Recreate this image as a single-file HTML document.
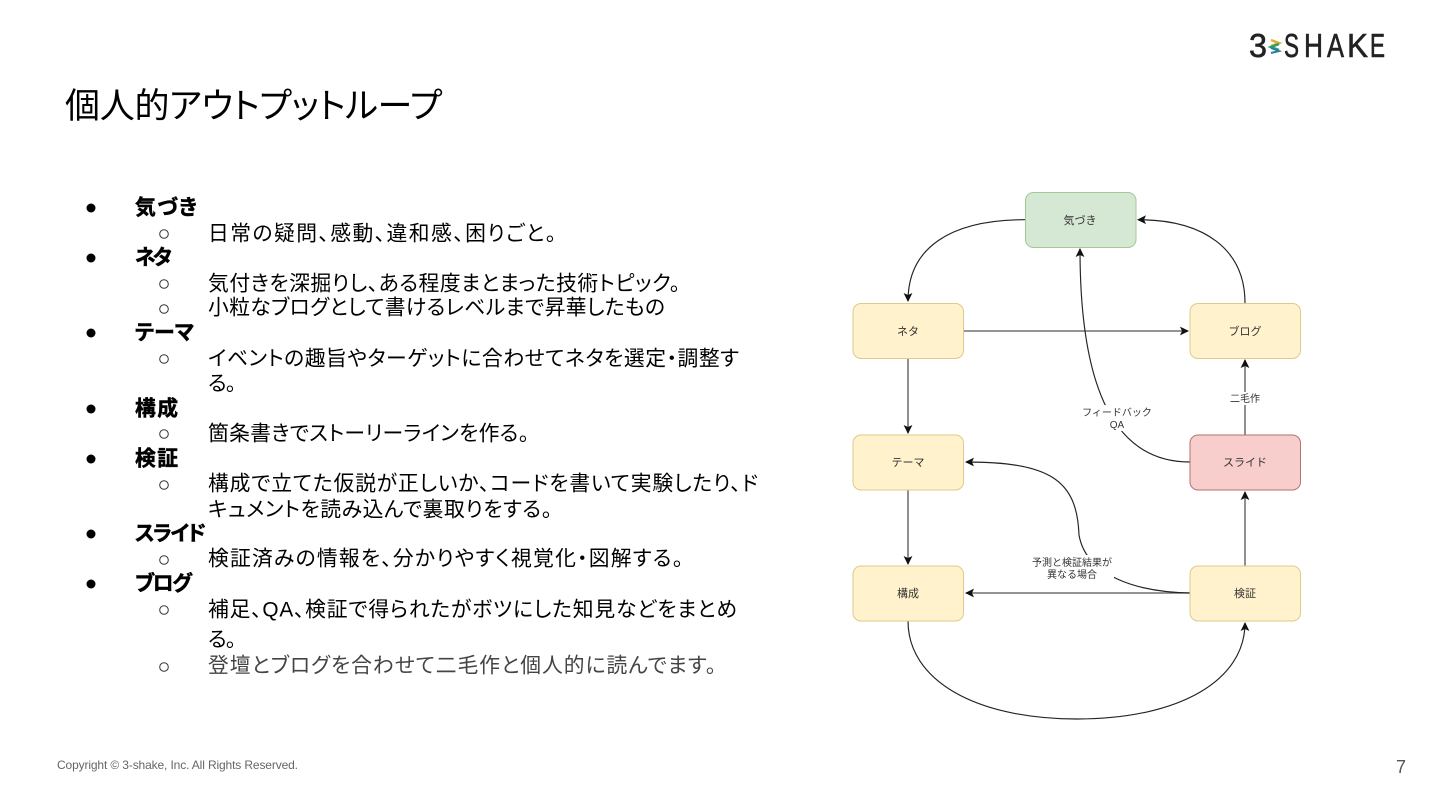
<!DOCTYPE html>
<html lang="ja"><head><meta charset="utf-8"><title>個人的アウトプットループ</title>
<style>
html,body{margin:0;padding:0;background:#fff;width:1440px;height:810px;overflow:hidden}
svg{display:block}
text{font-family:"Liberation Sans","Noto Sans CJK JP",sans-serif;}
.t{font-size:20.8px;fill:#000;font-feature-settings:"palt"}
.b{font-size:20.8px;fill:#000;font-weight:700;stroke:#000;stroke-width:.5;font-feature-settings:"palt"}
.n{font-size:11px;fill:#333;text-anchor:middle}
.l{font-size:10px;fill:#333;text-anchor:middle}
.e{fill:none;stroke:#222;stroke-width:1.15}
.s{fill:none;stroke:#555;stroke-width:1.3}
.g{font-size:33px;fill:#222;stroke:#222;stroke-width:.6}
</style></head><body>
<svg width="1440" height="810" viewBox="0 0 1440 810" xmlns="http://www.w3.org/2000/svg">
<defs><marker id="a" markerWidth="12" markerHeight="12" refX="8" refY="5" orient="auto" markerUnits="userSpaceOnUse"><path d="M0,0.6L9,5L0,9.4L2,5Z" fill="#111"/></marker></defs>

<text class="g" x="1249" y="57" textLength="18" lengthAdjust="spacingAndGlyphs">3</text>
<path d="M1271,40l8,3l-8,3" fill="none" stroke="#e0b030" stroke-width="2.5"/>
<path d="M1279,44l-8,3l8,3" fill="none" stroke="#2f9e6e" stroke-width="2.5"/>
<path d="M1271,48l8,3l-8,2" fill="none" stroke="#2a7fa0" stroke-width="2"/>
<text class="g" x="1284" y="57" textLength="15" lengthAdjust="spacingAndGlyphs">S</text>
<text class="g" x="1304" y="57" textLength="19" lengthAdjust="spacingAndGlyphs">H</text>
<text class="g" x="1327" y="57" textLength="17" lengthAdjust="spacingAndGlyphs">A</text>
<text class="g" x="1347" y="57" textLength="21" lengthAdjust="spacingAndGlyphs">K</text>
<text class="g" x="1370" y="57" textLength="15" lengthAdjust="spacingAndGlyphs">E</text>

<text x="65" y="118" style="font-size:35px;font-feature-settings:'palt'" fill="#000" textLength="377">個人的アウトプットループ</text>

<g fill="#000">
<circle cx="91" cy="208" r="4.5"/><circle cx="91" cy="258" r="4.5"/><circle cx="91" cy="333" r="4.5"/><circle cx="91" cy="409" r="4.5"/><circle cx="91" cy="459" r="4.5"/><circle cx="91" cy="534" r="4.5"/><circle cx="91" cy="584" r="4.5"/>
</g>
<g fill="none" stroke="#333" stroke-width="1">
<circle cx="164" cy="234" r="4.3"/><circle cx="164" cy="284" r="4.3"/><circle cx="164" cy="309" r="4.3"/><circle cx="164" cy="359" r="4.3"/><circle cx="164" cy="434" r="4.3"/><circle cx="164" cy="485" r="4.3"/><circle cx="164" cy="560" r="4.3"/><circle cx="164" cy="610" r="4.3"/><circle cx="164" cy="667" r="4.3"/>
</g>

<g transform="translate(0,0.7)">
<text class="b" x="135" y="214" textLength="62">気づき</text>
<text class="t" x="208" y="240" textLength="348">日常の疑問、感動、違和感、困りごと。</text>
<text class="b" x="135" y="264" textLength="37">ネタ</text>
<text class="t" x="208" y="290" textLength="472">気付きを深掘りし、ある程度まとまった技術トピック。</text>
<text class="t" x="208" y="314" textLength="457">小粒なブログとして書けるレベルまで昇華したもの</text>
<text class="b" x="135" y="339" textLength="59">テーマ</text>
<text class="t" x="208" y="365" textLength="531">イベントの趣旨やターゲットに合わせてネタを選定・調整す</text>
<text class="t" x="208" y="390" textLength="28">る。</text>
<text class="b" x="135" y="415" textLength="43">構成</text>
<text class="t" x="208" y="440" textLength="321">箇条書きでストーリーラインを作る。</text>
<text class="b" x="135" y="465" textLength="43">検証</text>
<text class="t" x="208" y="490" textLength="550">構成で立てた仮説が正しいか、コードを書いて実験したり、ド</text>
<text class="t" x="208" y="516" textLength="344">キュメントを読み込んで裏取りをする。</text>
<text class="b" x="135" y="540" textLength="71">スライド</text>
<text class="t" x="208" y="565" textLength="475">検証済みの情報を、分かりやすく視覚化・図解する。</text>
<text class="b" x="135" y="590" textLength="57">ブログ</text>
<text class="t" x="208" y="616" textLength="529">補足、QA、検証で得られたがボツにした知見などをまとめ</text>
<text class="t" x="208" y="646" textLength="28">る。</text>
<text class="t" x="208" y="672" textLength="508" style="fill:#444">登壇とブログを合わせて二毛作と個人的に読んでます。</text>
</g>

<g>
<path class="s" d="M964,331H1188" marker-end="url(#a)"/>
<path class="s" d="M908,358.5V433" marker-end="url(#a)"/>
<path class="s" d="M908,490V564" marker-end="url(#a)"/>
<path class="s" d="M1245,435V360" marker-end="url(#a)"/>
<path class="s" d="M1245,566V492" marker-end="url(#a)"/>
<path class="s" d="M1190,593H966" marker-end="url(#a)"/>
<path class="e" d="M1025,219.7C950,219.7 908,248 908,301" marker-end="url(#a)"/>
<path class="e" d="M1245,303C1245,250 1205,219.7 1138,219.7" marker-end="url(#a)"/>
<path class="e" d="M908,621C908,680 975,719 1077,719C1180,719 1245,680 1245,623" marker-end="url(#a)"/>
<path class="e" d="M1190,462C1115,462 1080,390 1080,249" marker-end="url(#a)"/>
<path class="e" d="M1190,593C1135,592 1086,575 1079,535C1077,480 1050,462 966,462" marker-end="url(#a)"/>
</g>

<rect x="1078" y="405" width="78" height="26" fill="#fff"/>
<text class="l" x="1117" y="416">フィードバック</text>
<text class="l" x="1117" y="428">QA</text>
<rect x="1228" y="392" width="34" height="13" fill="#fff"/>
<text class="l" x="1245" y="402">二毛作</text>
<rect x="1030" y="555" width="84" height="27" fill="#fff"/>
<text class="l" x="1072" y="566">予測と検証結果が</text>
<text class="l" x="1072" y="578">異なる場合</text>

<g stroke-width="1">
<rect x="1025.5" y="192.5" width="110.5" height="55" rx="8" fill="#d5e8d4" stroke="#a3c795"/>
<rect x="853" y="303.5" width="110.5" height="55" rx="8" fill="#fff2cc" stroke="#dccb8a"/>
<rect x="1190" y="303.5" width="110.5" height="55" rx="8" fill="#fff2cc" stroke="#dccb8a"/>
<rect x="853" y="435" width="110.5" height="55" rx="8" fill="#fff2cc" stroke="#dccb8a"/>
<rect x="1190" y="435" width="110.5" height="55" rx="8" fill="#f8cecc" stroke="#b5726f"/>
<rect x="853" y="566" width="110.5" height="55" rx="8" fill="#fff2cc" stroke="#dccb8a"/>
<rect x="1190" y="566" width="110.5" height="55" rx="8" fill="#fff2cc" stroke="#dccb8a"/>
</g>
<text class="n" x="1080" y="224">気づき</text>
<text class="n" x="908" y="335">ネタ</text>
<text class="n" x="1245" y="335">ブログ</text>
<text class="n" x="908" y="466">テーマ</text>
<text class="n" x="1245" y="466">スライド</text>
<text class="n" x="908" y="597">構成</text>
<text class="n" x="1245" y="597">検証</text>

<text x="57" y="769" style="font-size:12px" fill="#666" textLength="241">Copyright © 3-shake, Inc. All Rights Reserved.</text>
<text x="1396" y="773" style="font-size:18px" fill="#555">7</text>
</svg>
</body></html>
